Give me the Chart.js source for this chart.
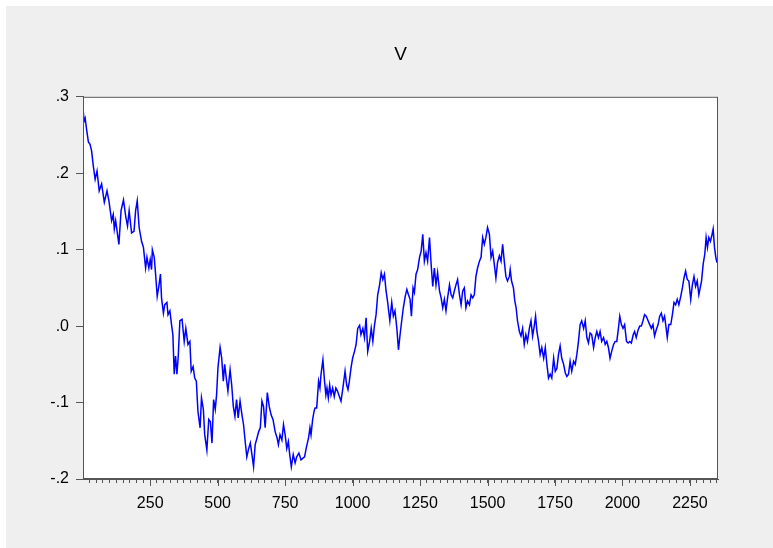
<!DOCTYPE html>
<html>
<head>
<meta charset="utf-8">
<script src="https://cdn.jsdelivr.net/npm/chart.js@4.4.1/dist/chart.umd.min.js"></script>
<style>
  body { margin: 0; background: #fff; }
  #wrap { position: absolute; left: 6px; top: 6px; width: 767px; height: 542px; background: #efefef; }
</style>
</head>
<body>
<div id="wrap"><canvas id="vChart" width="767" height="542"></canvas></div>
<script>
// observation number of each reading
const obs = [
  1, 5, 9, 14, 21, 27, 33, 39, 46, 53, 61, 70, 80, 90, 97, 107, 113, 117, 122, 134,
  142, 151, 160, 166, 172, 181, 190, 196, 202, 209, 218, 225, 233, 238, 245, 250, 255, 258, 265, 270,
  276, 282, 288, 292, 299, 304, 312, 316, 323, 329, 334, 339, 344, 349, 354, 360, 368, 376, 382, 390,
  397, 402, 409, 415, 421, 427, 435, 440, 447, 452, 460, 467, 473, 479, 485, 491, 496, 501, 509, 515,
  521, 526, 532, 538, 546, 552, 558, 564, 570, 576, 583, 590, 596, 602, 608, 615, 621, 627, 633, 639,
  646, 652, 658, 664, 670, 676, 684, 691, 698, 705, 713, 720, 725, 731, 738, 744, 750, 756, 762, 767,
  773, 780, 787, 793, 801, 809, 815, 822, 828, 837, 842, 846, 852, 857, 861, 867, 874, 879, 883, 890,
  896, 901, 905, 910, 915, 920, 926, 932, 938, 944, 951, 957, 964, 972, 978, 983, 988, 994, 1000, 1007,
  1013, 1019, 1026, 1031, 1038, 1044, 1050, 1056, 1063, 1069, 1075, 1081, 1087, 1093, 1100, 1106, 1112, 1118, 1124, 1130,
  1138, 1145, 1151, 1157, 1164, 1170, 1176, 1182, 1188, 1195, 1201, 1207, 1213, 1218, 1224, 1229, 1235, 1241, 1248, 1254,
  1260, 1266, 1272, 1278, 1285, 1291, 1297, 1303, 1309, 1315, 1322, 1328, 1334, 1340, 1346, 1352, 1359, 1365, 1371, 1377,
  1383, 1389, 1396, 1402, 1408, 1414, 1420, 1426, 1433, 1439, 1445, 1451, 1457, 1463, 1470, 1476, 1482, 1488, 1494, 1500,
  1507, 1513, 1519, 1525, 1531, 1537, 1544, 1550, 1556, 1562, 1568, 1574, 1581, 1584, 1589, 1596, 1601, 1606, 1611, 1618,
  1624, 1630, 1636, 1642, 1648, 1655, 1661, 1667, 1673, 1678, 1683, 1689, 1695, 1701, 1708, 1714, 1720, 1726, 1732, 1738,
  1745, 1751, 1757, 1763, 1769, 1775, 1782, 1788, 1794, 1800, 1806, 1812, 1819, 1825, 1831, 1837, 1843, 1849, 1856, 1862,
  1868, 1874, 1880, 1886, 1893, 1899, 1905, 1911, 1917, 1923, 1930, 1936, 1942, 1948, 1954, 1960, 1967, 1973, 1979, 1985,
  1990, 1996, 2002, 2008, 2015, 2021, 2027, 2033, 2040, 2045, 2051, 2058, 2064, 2070, 2076, 2082, 2088, 2095, 2101, 2107,
  2113, 2119, 2125, 2132, 2138, 2144, 2150, 2156, 2162, 2166, 2172, 2179, 2185, 2191, 2197, 2203, 2209, 2216, 2222, 2228,
  2234, 2240, 2246, 2253, 2259, 2265, 2271, 2277, 2283, 2288, 2293, 2299, 2305, 2310, 2315, 2320, 2326, 2332, 2336, 2341,
  2346, 2350
];

// series V
const vValues = [
  .285, .268, .272, .258, .241, .238, .229, .210, .192, .203, .177, .186, .162, .177, .164, .138, .146, .127, .138, .107,
  .151, .165, .142, .131, .151, .122, .124, .151, .164, .129, .111, .103, .076, .090, .076, .087, .074, .100, .090, .068,
  .039, .052, .068, .037, .017, .028, .031, .015, .020, .002, -.011, -.063, -.039, -.063, -.039, .007, .009, -.020, -.003, -.024,
  -.020, -.059, -.053, -.068, -.072, -.112, -.133, -.094, -.109, -.142, -.162, -.122, -.125, -.153, -.096, -.109, -.090, -.055, -.028, -.042,
  -.072, -.050, -.068, -.085, -.057, -.077, -.105, -.118, -.096, -.120, -.098, -.116, -.129, -.151, -.171, -.160, -.153, -.168, -.184, -.155,
  -.146, -.138, -.133, -.098, -.105, -.133, -.087, -.105, -.116, -.122, -.138, -.146, -.155, -.142, -.149, -.129, -.142, -.160, -.151, -.168,
  -.184, -.168, -.179, -.171, -.166, -.175, -.173, -.171, -.160, -.146, -.133, -.142, -.122, -.112, -.107, -.107, -.072, -.081, -.063, -.044,
  -.072, -.090, -.081, -.094, -.077, -.090, -.081, -.092, -.081, -.085, -.092, -.098, -.081, -.059, -.077, -.083, -.072, -.055, -.042, -.033,
  -.024, -.003, .001, -.011, -.003, -.015, .011, -.033, -.020, -.003, -.020, .001, .015, .041, .054, .070, .061, .068, .046, .031,
  .007, .031, .013, .020, -.003, -.031, -.011, .007, .024, .039, .048, .041, .035, .013, .050, .044, .068, .074, .090, .098,
  .120, .085, .096, .085, .116, .081, .052, .076, .054, .070, .046, .037, .024, .035, .020, .037, .054, .041, .037, .046,
  .054, .061, .041, .028, .046, .050, .024, .033, .028, .041, .037, .041, .065, .076, .085, .090, .116, .107, .116, .129,
  .120, .090, .098, .081, .063, .083, .092, .085, .107, .085, .065, .059, .065, .074, .059, .050, .033, .024, .007, -.007,
  -.013, -.003, -.024, -.011, -.020, -.003, .007, -.013, .000, .013, -.007, -.020, -.037, -.028, -.042, -.028, -.050, -.068, -.063, -.068,
  -.042, -.059, -.055, -.037, -.026, -.042, -.050, -.061, -.066, -.063, -.046, -.059, -.046, -.050, -.037, -.020, .002, .007, -.003, .007,
  -.015, -.022, -.009, -.011, -.028, -.015, -.007, -.015, -.007, -.020, -.015, -.024, -.020, -.028, -.042, -.033, -.024, -.020, -.020, -.003,
  .013, .002, -.003, .002, -.020, -.022, -.020, -.022, -.011, -.007, -.015, -.005, .000, .000, .007, .015, .013, .007, .002, -.003,
  .002, -.013, -.005, .002, .013, .017, .007, .013, -.003, -.015, .002, .002, .015, .031, .028, .035, .028, .039, .050, .063,
  .072, .061, .059, .035, .054, .065, .052, .059, .041, .050, .059, .081, .094, .116, .103, .116, .111, .120, .127, .103,
  .090, .083
];

const yTicks = [-0.2, -0.1, 0.0, 0.1, 0.2, 0.3];
const xMajorTicks = [250, 500, 750, 1000, 1250, 1500, 1750, 2000, 2250];

const fontFamily = '"Liberation Sans", Arial, sans-serif';
const frameColor = '#555';

// white plot area and the full frame around it, plus longer major ticks
const framePlugin = {
  id: 'frame',
  beforeDraw(chart) {
    const { ctx, chartArea: a } = chart;
    ctx.save();
    ctx.fillStyle = '#fff';
    ctx.fillRect(a.left, a.top, a.right - a.left, a.bottom - a.top);
    ctx.restore();
  },
  afterDraw(chart) {
    const { ctx, chartArea: a } = chart;
    const xs = chart.scales.x;
    ctx.save();
    ctx.strokeStyle = frameColor;
    ctx.lineWidth = 1;
    ctx.strokeRect(a.left + 0.5, a.top + 0.5, a.right - a.left - 1, a.bottom - a.top - 1);
    ctx.beginPath();
    xMajorTicks.forEach(v => {
      const px = Math.round(xs.getPixelForValue(v)) + 0.5;
      ctx.moveTo(px, a.bottom);
      ctx.lineTo(px, a.bottom + 7);
    });
    ctx.stroke();
    ctx.restore();
  }
};

const fmtY = v => {
  const s = Number(v).toFixed(1);
  return s.replace(/^(-?)0\./, '$1.');
};

const ctx = document.getElementById('vChart').getContext('2d');
new Chart(ctx, {
  type: 'line',
  data: {
    datasets: [{
      label: 'V',
      data: obs.map((o, i) => ({ x: o, y: vValues[i] })),
      borderColor: '#0000ff',
      borderWidth: 1.5,
      pointRadius: 0,
      tension: 0,
      fill: false
    }]
  },
  options: {
    responsive: false,
    animation: false,
    layout: { padding: { left: 22, right: 0, top: 0, bottom: 0 } },
    plugins: {
      legend: { display: false },
      tooltip: { enabled: false },
      title: {
        display: true,
        text: 'V',
        color: '#000',
        font: { family: fontFamily, size: 19, weight: 'normal', lineHeight: 1.2 },
        padding: { top: 37, bottom: 31 }
      }
    },
    scales: {
      x: {
        type: 'linear',
        min: 1,
        max: 2354,
        afterFit: s => { s.height = 69; },
        border: { color: frameColor },
        grid: { drawOnChartArea: false, tickLength: 4, color: frameColor },
        ticks: {
          stepSize: 25,
          includeBounds: false,
          autoSkip: false,
          maxRotation: 0,
          padding: 11,
          color: '#000',
          font: { family: fontFamily, size: 16 },
          callback: v => (v % 250 === 0 ? String(v) : '')
        }
      },
      y: {
        min: -0.2,
        max: 0.3,
        afterFit: s => { s.width = 55; },
        afterBuildTicks: s => { s.ticks = yTicks.map(v => ({ value: v })); },
        border: { color: frameColor },
        grid: { drawOnChartArea: false, tickLength: 7, color: frameColor },
        ticks: {
          padding: 7,
          color: '#000',
          font: { family: fontFamily, size: 16 },
          callback: fmtY
        }
      },
      // empty right-hand axis that only reserves the right margin
      yRight: {
        position: 'right',
        min: -0.2,
        max: 0.3,
        afterFit: s => { s.width = 55; },
        border: { display: false },
        grid: { display: false },
        ticks: { display: false }
      }
    }
  },
  plugins: [framePlugin]
});
</script>
</body>
</html>
